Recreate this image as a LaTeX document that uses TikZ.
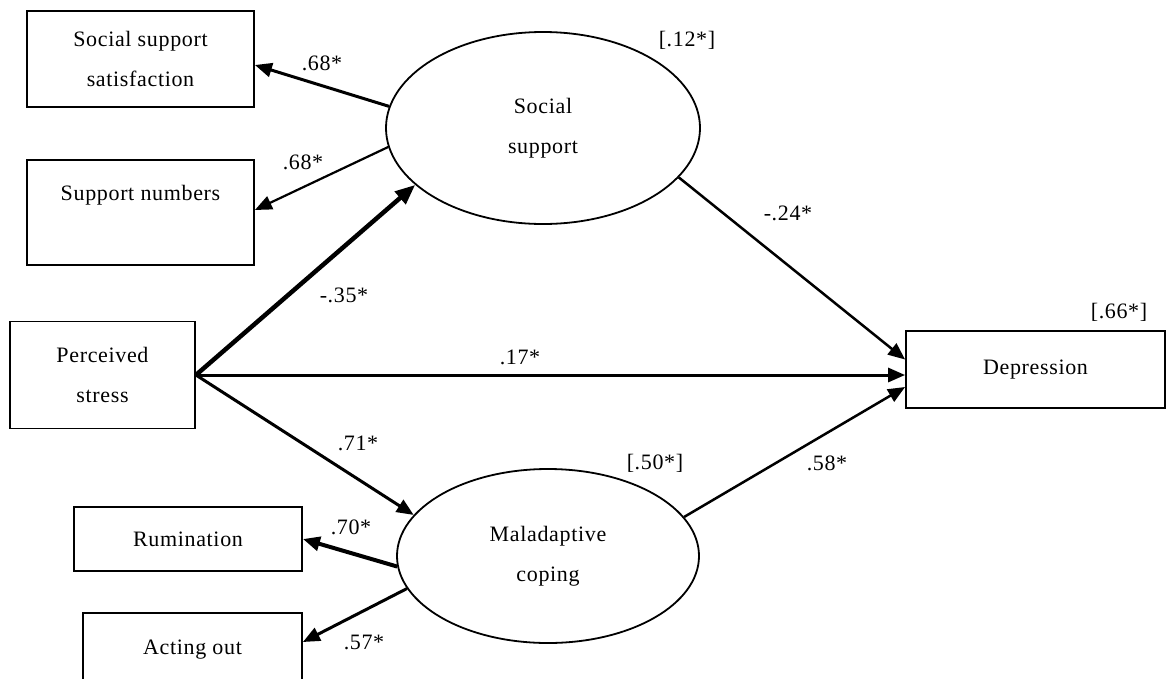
\documentclass[tikz,border=0pt]{standalone}
\usepackage{fontspec}
\setmainfont{Liberation Serif}[LetterSpace=3]
\usetikzlibrary{arrows.meta,shapes.geometric}
\begin{document}
\begin{tikzpicture}[x=1pt,y=-1pt,
  every node/.style={font=\fontsize{22}{40}\selectfont},
  box/.style={draw, line width=1.8pt, align=center, inner sep=0pt},
  lat/.style={draw, ellipse, line width=1.8pt, align=center, inner sep=0pt},
  lbl/.style={inner sep=0pt},
  arr/.style={-{Triangle[length=17pt,width=14pt]}, line width=2.5pt},
]
\useasboundingbox (0,0) rectangle (1167,678);
\begin{scope}
\clip (0,0) rectangle (1167,678);
% boxes
\node[box, minimum width=227pt, minimum height=96pt] (sss) at (140.5,59) {Social support\\satisfaction};
\node[box, minimum width=227pt, minimum height=105pt] (sn) at (140.5,212.5) {Support numbers\\\mbox{}};
\node[box, minimum width=185pt, minimum height=107pt] (ps) at (102.5,375) {Perceived\\stress};
\node[box, minimum width=228pt, minimum height=64pt] (ru) at (188,539) {Rumination};
\node[box, minimum width=219pt, minimum height=108pt] (ao) at (192.5,667) {Acting out\\\mbox{}};
\node[box, minimum width=259pt, minimum height=77pt] (dep) at (1035.5,369.5) {Depression};
% latent variables
\node[lat, minimum width=314pt, minimum height=192pt] (ss) at (543,128) {Social\\support};
\node[lat, minimum width=302pt, minimum height=174pt] (mc) at (548,556) {Maladaptive\\coping};
% connectors
\draw[arr, line width=3pt] (ss.172.6) -- ([yshift=-6pt]sss.east);
\draw[arr, line width=2.2pt] (ss.187.4) -- ([yshift=2.5pt]sn.east);
\draw[arr, line width=4.5pt, -{Triangle[length=20pt,width=16pt]}] (ps.east) -- (ss.204.2);
\draw[arr, line width=3pt] (ps.east) -- (ps.east -| dep.west);
\draw[arr, line width=3pt] (ps.east) -- (mc.163.9);
\draw[arr, line width=4pt] (mc.184.7) -- (ru.east);
\draw[arr, line width=3pt] (mc.193.1) -- ([yshift=25pt]ao.east);
\draw[arr, line width=2.5pt] (ss.-20.7) -- ([yshift=10pt]dep.west);
\draw[arr, line width=2.5pt] (mc.16.3) -- ([yshift=-17.5pt]dep.west);
% labels
\node[lbl] (l1) at (322,63) {.68*};
\node[lbl] (l2) at (303,162) {.68*};
\node[lbl] (l3) at (344,295) {-.35*};
\node[lbl] (l4) at (520,357) {.17*};
\node[lbl] (l5) at (358,443) {.71*};
\node[lbl] (l6) at (351,527) {.70*};
\node[lbl] (l7) at (364,642) {.57*};
\node[lbl] (l8) at (788,213) {-.24*};
\node[lbl] (l9) at (827,463) {.58*};
\node[lbl] (r1) at (687,40) {[.12*]};
\node[lbl] (r2) at (655,463) {[.50*]};
\node[lbl] (r3) at (1119,312) {[.66*]};
\end{scope}
\end{tikzpicture}
\end{document}
